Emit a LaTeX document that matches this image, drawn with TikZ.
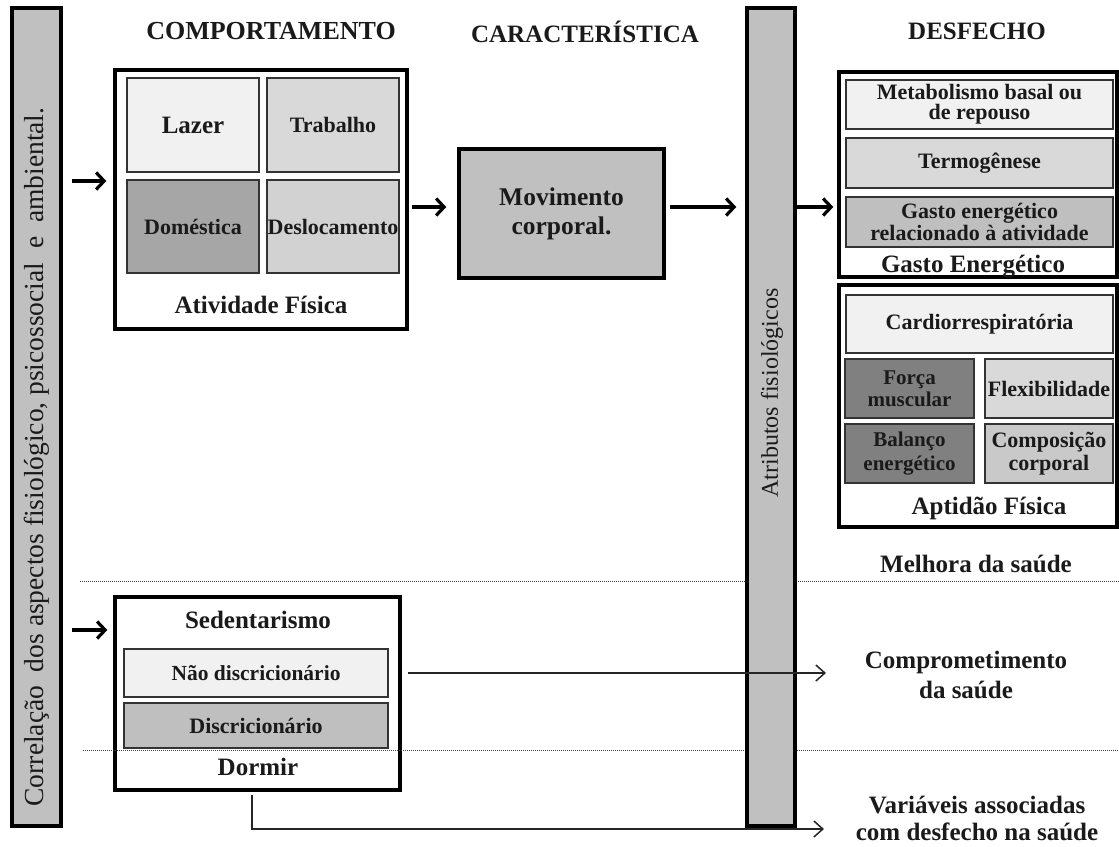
\documentclass[tikz,border=0pt]{standalone}
\usepackage{fontspec}
\setmainfont{Liberation Serif}
\usetikzlibrary{arrows.meta}
\definecolor{barg}{HTML}{C0C0C0}
\definecolor{clt}{HTML}{F1F1F1}
\definecolor{cmd}{HTML}{D9D9D9}
\definecolor{cms}{HTML}{D2D2D2}
\definecolor{cmg}{HTML}{BFBFBF}
\definecolor{cdk}{HTML}{A6A6A6}
\definecolor{cdd}{HTML}{808080}
\definecolor{ccp}{HTML}{C9C9C9}
\definecolor{ink}{HTML}{1A1A1A}
\tikzset{
  sz/.style 2 args={minimum width=#1pt, minimum height=#2pt},
  outerbox/.style={draw=black, line width=3.4pt, inner sep=0pt},
  cellbox/.style={draw=black!80, line width=1.7pt, inner sep=0pt, align=center, text=ink,
    font=\bfseries\fontsize{22}{20}\selectfont},
  barbox/.style={draw=black, line width=3.4pt, fill=barg, inner sep=0pt},
  hdr/.style={font=\bfseries\fontsize{25}{28}\selectfont, text=ink, inner sep=0pt, anchor=base},
  lbl/.style={font=\bfseries\fontsize{25}{28}\selectfont, text=ink, inner sep=0pt, anchor=base},
  twolbl/.style={font=\bfseries\fontsize{25}{30}\selectfont, text=ink, inner sep=0pt, align=center},
  rottxt/.style={font=\fontsize{27.5}{30}\selectfont, text=ink, inner sep=0pt, rotate=90},
  thk/.style={draw=black, line width=3.6pt, -{Straight Barb[length=8pt,width=17pt,line width=3.2pt]}},
  thn/.style={draw=black!85, line width=1.5pt, -{Straight Barb[length=9pt,width=16pt,line width=1.5pt]}},
  dotline/.style={line width=1pt, dash pattern=on 1pt off 1pt, black!75},
}
\begin{document}
\begin{tikzpicture}[x=1pt,y=-1pt]
\useasboundingbox (0,0) rectangle (1119,846);
\fill[white] (0,0) rectangle (1119,846);

% headers
\node[hdr, font=\bfseries\fontsize{26}{28}\selectfont] (hcomp) at (271,39) {COMPORTAMENTO};
\node[hdr] (hcar) at (585,42) {CARACTERÍSTICA};
\node[hdr] (hdes) at (977,39) {DESFECHO};

% left bar
\node[barbox, sz={49}{818}] (corr) at (36.5,417) {};
\node[rottxt] (corrtxt) at (37,457) {Correlação\ \ dos aspectos fisiológico, psicossocial\ \ e\ \ ambiental.};

% dotted separators
\coordinate (d1a) at (80,581);
\coordinate (d1b) at (1119,581);
\coordinate (d2a) at (83,750);
\coordinate (d2b) at (1119,750);
\draw[dotline] (d1a) -- (d1b);

% Atividade fisica
\node[outerbox, sz={292}{259}] (ativ) at (261,199.5) {};
\node[cellbox, fill=clt, sz={132}{94}, font=\bfseries\fontsize{25}{28}\selectfont] (lazer) at (193,125) {Lazer};
\node[cellbox, fill=cmd, sz={132}{94}] (trab) at (333,125) {Trabalho};
\node[cellbox, fill=cdk, sz={132}{93}] (dom) at (193,226.5) {Doméstica};
\node[cellbox, fill=cms, sz={132}{93}] (desl) at (333,226.5) {Deslocamento};
\node[lbl] (ativlbl) at (261,313) {Atividade Física};

% Movimento corporal
\node[cellbox, draw=black, line width=3.4pt, fill=barg, sz={205}{129}, font=\bfseries\fontsize{25.5}{29}\selectfont] (mov) at (561.5,213.5) {Movimento\\corporal.};

% Sedentarismo
\node[outerbox, sz={285}{193}] (sed) at (257.5,693.5) {};
\draw[dotline] (d2a) -- (d2b);
\node[lbl] (sedlbl) at (258,628) {Sedentarismo};
\node[cellbox, fill=clt, sz={264}{48}, font=\bfseries\fontsize{21.5}{24}\selectfont] (naod) at (256,673) {Não discricionário};
\node[cellbox, fill=cmg, sz={264}{45}] (disc) at (256,725.5) {Discricionário};
\node[lbl] (dorm) at (258,775) {Dormir};

% middle bar
\node[barbox, sz={48}{818}] (atrib) at (771,417) {};
\node[rottxt, font=\fontsize{24}{28}\selectfont] (atribtxt) at (772,393) {Atributos fisiológicos};

% Gasto energetico
\node[outerbox, sz={278}{205}] (gasto) at (978,174.5) {};
\node[cellbox, fill=clt, sz={267}{49}] (metab) at (979.5,104.5) {Metabolismo basal ou\\de repouso};
\node[cellbox, fill=cmd, sz={267}{50}] (termo) at (979.5,163) {Termogênese};
\node[cellbox, fill=cmg, sz={267}{50}] (gativ) at (979.5,222) {Gasto energético\\relacionado à atividade};
\node[lbl] (gastolbl) at (973,272) {Gasto Energético};

% Aptidao fisica
\node[outerbox, sz={278}{242}] (apt) at (978,406) {};
\node[cellbox, fill=clt, sz={267}{58}] (cardio) at (979.5,324) {Cardiorrespiratória};
\node[cellbox, fill=cdd, sz={129}{59}, font=\bfseries\fontsize{21}{22}\selectfont] (forca) at (909.5,388.5) {Força\\muscular};
\node[cellbox, fill=cmd, sz={128}{59}] (flex) at (1049,388.5) {Flexibilidade};
\node[cellbox, fill=cdd, sz={129}{59}, font=\bfseries\fontsize{21}{24}\selectfont] (bal) at (909.5,453.5) {Balanço\\energético};
\node[cellbox, fill=ccp, sz={128}{59}, font=\bfseries\fontsize{22}{23}\selectfont] (comp) at (1049,453.5) {Composição\\corporal};
\node[lbl] (aptlbl) at (989,514) {Aptidão Física};

\node[lbl] (melhora) at (976,572) {Melhora da saúde};
\node[twolbl] (compr) at (966,674.5) {Comprometimento\\da saúde};
\node[twolbl, font=\bfseries\fontsize{25}{27}\selectfont] (varia) at (977,818) {Variáveis associadas\\com desfecho na saúde};

% arrows
\coordinate (ya) at (0,181);
\coordinate (yb) at (0,207);
\coordinate (yc) at (0,630);
\draw[thk, shorten <=9pt, shorten >=7pt] (corr.east |- ya) -- (ativ.west |- ya);
\draw[thk, shorten <=3pt, shorten >=11pt] (ativ.east |- yb) -- (mov.west |- yb);
\draw[thk, shorten <=4pt, shorten >=9pt] (mov.east |- yb) -- (atrib.west |- yb);
\draw[thk, shorten <=0pt, shorten >=4pt] (atrib.east |- yb) -- (gasto.west |- yb);
\draw[thk, shorten <=9pt, shorten >=6pt] (corr.east |- yc) -- (sed.west |- yc);

\coordinate (cmpend) at (826,673);
\draw[thn, shorten <=19pt] (naod.east) -- (cmpend);

\coordinate (dtop) at (252,795);
\coordinate (dcorner) at (252,829);
\coordinate (dend) at (824,829);
\draw[thn] (dtop) -- (dcorner) -- (dend);
\end{tikzpicture}
\end{document}
